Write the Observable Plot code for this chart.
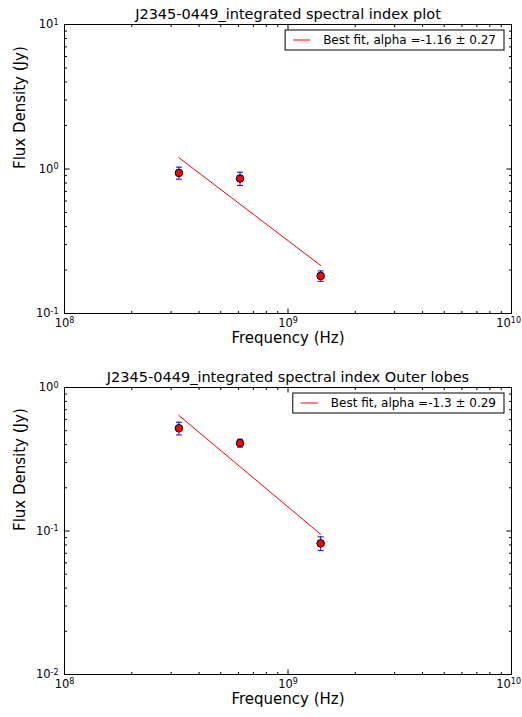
<!DOCTYPE html>
<html>
<head>
<meta charset="utf-8">
<script src="https://cdn.jsdelivr.net/npm/d3@7"></script>
<script src="https://cdn.jsdelivr.net/npm/@observablehq/plot@0.6"></script>
<style>
  html, body { margin: 0; padding: 0; background: white; }
  svg { display: block; }
</style>
</head>
<body>
<script>
// ---- data ----
const freqHz = [3.25e8, 6.1e8, 1.4e9];
const fluxTotal = [0.94, 0.86, 0.182];
const errTotal = [0.09, 0.09, 0.015];
const fluxLobes = [0.52, 0.41, 0.082];
const errLobes = [0.053, 0.026, 0.009];
const fitFreq = [3.25e8, 1.4e9];
const fitTotal = [1.197, 0.215];
const fitLobes = [0.639, 0.0948];
const titles = ["J2345-0449_integrated spectral index plot", "J2345-0449_integrated spectral index Outer lobes"];
const legendLabels = ["Best fit, alpha =-1.16 \u00b1 0.27", "Best fit, alpha =-1.3 \u00b1 0.29"];
const xMajor = [1e8, 1e9, 1e10];
const yMajor1 = [0.1, 1, 10];
const yMajor2 = [0.01, 0.1, 1];

const fmt = v => "10^" + Math.round(Math.log10(v));

function minorOf(major) {
  const out = [];
  for (let k = 0; k < major.length - 1; k++) for (let m = 2; m <= 9; m++) out.push(major[k] * m);
  return out;
}
const seg = (dx, dy) => ({draw(ctx) { ctx.moveTo(0, 0); ctx.lineTo(dx, dy); }});
const cap = {draw(ctx) { ctx.moveTo(-3, 0); ctx.lineTo(3, 0); }};

function tickMarks(major, minor, axis) {
  const M = 5, m = 2.5;
  const specs = axis === "x"
    ? [["bottom", 0, -1], ["top", 0, 1]]
    : [["left", 1, 0], ["right", -1, 0]];
  const out = [];
  for (const [anchor, sx, sy] of specs) {
    for (const [arr, len] of [[major, M], [minor, m]]) {
      const opts = {frameAnchor: anchor, symbol: seg(sx * len, sy * len), stroke: "black", fill: "none", strokeWidth: 1};
      if (axis === "x") opts.x = d => d; else opts.y = d => d;
      out.push(Plot.dot(arr, opts));
    }
  }
  return out;
}

function superscriptify(svgNode) {
  d3.select(svgNode).selectAll("text").each(function () {
    const el = d3.select(this);
    const m = /^10\^(-?\d+)$/.exec(this.textContent);
    if (!m) return;
    this.textContent = "";
    el.append("tspan").text("10");
    el.append("tspan").attr("font-size", 8).attr("dy", "-0.45em").text(m[1]);
    // keep label inside the page
    const bb = this.getBoundingClientRect();
    const svgBB = svgNode.getBoundingClientRect();
    const over = bb.right - (svgBB.left + 521);
    if (over > 0) {
      const t = this.getAttribute("transform") || "";
      this.setAttribute("transform", t + ` translate(${-over},0)`);
    }
  });
}

function panel({title, flux, err, fit, yDomain, yMajor, height, marginTop, marginBottom, legend}) {
  const pts = freqHz.map((f, i) => ({f, s: flux[i], e: err[i]}));
  const fitPts = fitFreq.map((f, i) => ({f, s: fit[i]}));
  const plot = Plot.plot({
    width: 522, height, marginLeft: 64, marginRight: 11, marginTop, marginBottom,
    style: {fontFamily: "DejaVu Sans", fontSize: "11.5px", color: "black", background: "white"},
    x: {type: "log", domain: [1e8, 1e10]},
    y: {type: "log", domain: yDomain},
    marks: [
      Plot.axisX({ticks: xMajor, tickFormat: fmt, tickSize: 0, tickPadding: 5, label: null}),
      Plot.axisY({ticks: yMajor, tickFormat: fmt, tickSize: 0, tickPadding: 6, label: null}),
      ...tickMarks(xMajor, minorOf(xMajor), "x"),
      ...tickMarks(yMajor, minorOf(yMajor), "y"),
      Plot.frame({stroke: "black", strokeWidth: 1}),
      Plot.line(fitPts, {x: "f", y: "s", stroke: "red", strokeWidth: 1}),
      Plot.ruleX(pts, {x: "f", y1: d => d.s - d.e, y2: d => d.s + d.e, stroke: "blue", strokeWidth: 1}),
      Plot.dot(pts, {x: "f", y: d => d.s - d.e, symbol: cap, stroke: "blue", fill: "none", strokeWidth: 1}),
      Plot.dot(pts, {x: "f", y: d => d.s + d.e, symbol: cap, stroke: "blue", fill: "none", strokeWidth: 1}),
      Plot.dot(pts, {x: "f", y: "s", r: 3.8, fill: "red", stroke: "black", strokeWidth: 1}),
      Plot.text([title], {frameAnchor: "top", dy: -6, lineAnchor: "bottom", fontSize: 14.5}),
      Plot.text(["Frequency (Hz)"], {frameAnchor: "bottom", dy: 29, fontSize: 15}),
      Plot.text(["Flux Density (Jy)"], {frameAnchor: "left", dx: -44, rotate: -90, fontSize: 15})
    ]
  });
  document.body.appendChild(plot);
  superscriptify(plot);
  // legend
  const svg = d3.select(plot);
  const g = svg.append("g").attr("text-anchor", "start");
  const txt = g.append("text")
    .attr("font-family", "DejaVu Sans").attr("font-size", 12).attr("fill", "black")
    .attr("text-anchor", "start")
    .attr("dominant-baseline", "central").text(legend);
  const tw = txt.node().getComputedTextLength();
  const boxW = 8 + 17 + 13 + tw + 8;
  const boxX = 522 - 11 - 7 - boxW;
  const boxY = marginTop + 6;
  const boxH = 20;
  g.insert("rect", "text").attr("x", boxX).attr("y", boxY).attr("width", boxW).attr("height", boxH)
    .attr("fill", "white").attr("stroke", "black").attr("stroke-width", 1);
  g.insert("line", "text").attr("x1", boxX + 8).attr("x2", boxX + 25).attr("y1", boxY + boxH / 2).attr("y2", boxY + boxH / 2)
    .attr("stroke", "red").attr("stroke-width", 1);
  txt.attr("x", boxX + 38).attr("y", boxY + boxH / 2);
}

panel({title: titles[0], flux: fluxTotal, err: errTotal, fit: fitTotal, yDomain: [0.1, 10], yMajor: yMajor1,
       height: 358, marginTop: 24, marginBottom: 45, legend: legendLabels[0]});
panel({title: titles[1], flux: fluxLobes, err: errLobes, fit: fitLobes, yDomain: [0.01, 1], yMajor: yMajor2,
       height: 359, marginTop: 29, marginBottom: 43, legend: legendLabels[1]});
</script>
</body>
</html>
